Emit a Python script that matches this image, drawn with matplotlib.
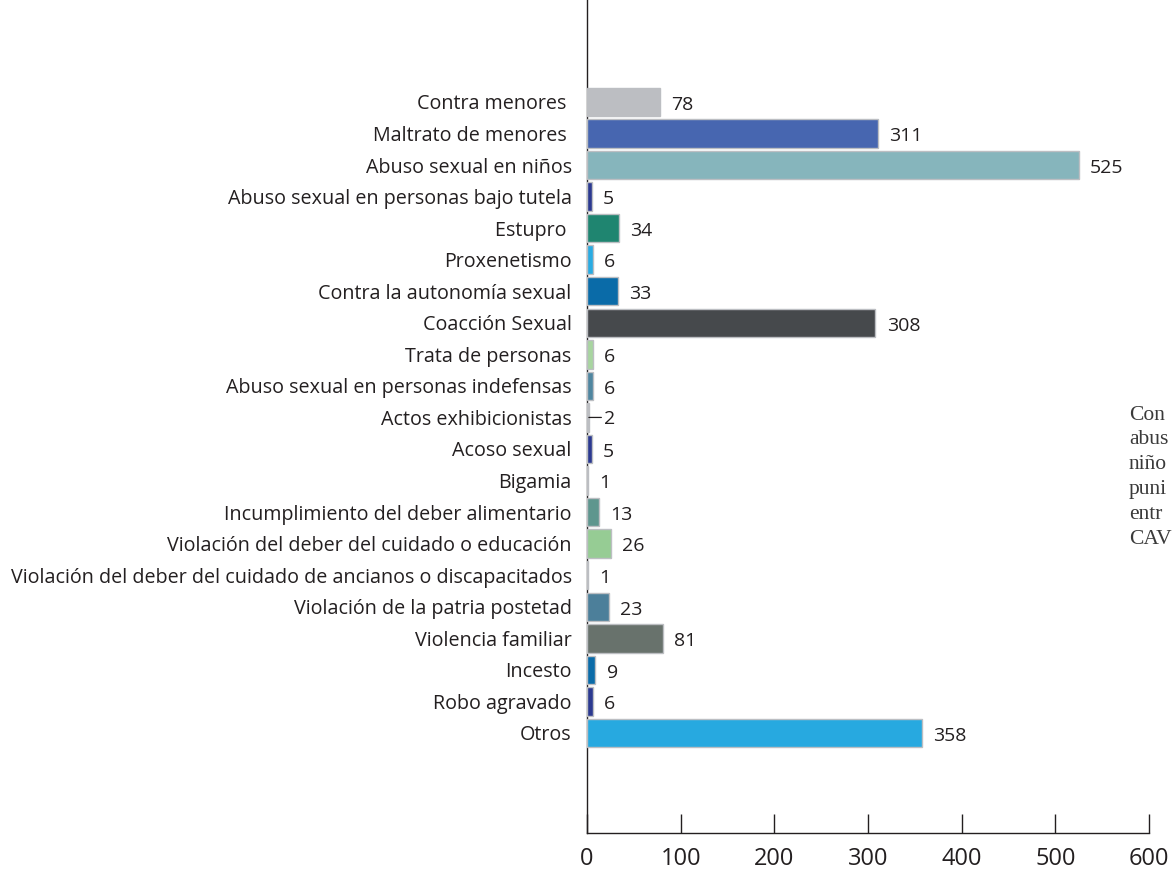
import matplotlib
matplotlib.use("Agg")
import matplotlib.pyplot as plt

categories = [
    "Contra menores ",
    "Maltrato de menores ",
    "Abuso sexual en niños",
    "Abuso sexual en personas bajo tutela",
    "Estupro ",
    "Proxenetismo",
    "Contra la autonomía sexual",
    "Coacción Sexual",
    "Trata de personas",
    "Abuso sexual en personas indefensas",
    "Actos exhibicionistas",
    "Acoso sexual",
    "Bigamia",
    "Incumplimiento del deber alimentario",
    "Violación del deber del cuidado o educación",
    "Violación del deber del cuidado de ancianos o discapacitados",
    "Violación de la patria postetad",
    "Violencia familiar",
    "Incesto",
    "Robo agravado",
    "Otros",
]
values = [78, 311, 525, 5, 34, 6, 33, 308, 6, 6, 2, 5, 1, 13, 26, 1, 23, 81, 9, 6, 358]
colors = [
    "#BCBEC2", "#4766B0", "#86B5BC", "#2B3990", "#1F8570", "#29ABE2",
    "#0A6BA8", "#46494C", "#A8D5A0", "#4F86A0", "#BCBEC2", "#2B3990",
    "#D8D8D8", "#5E968E", "#96CC94", "#231F20", "#4C7F9A", "#68726C",
    "#0A6BA8", "#2B3990", "#27A9E0",
]
xticks = [0, 100, 200, 300, 400, 500, 600]
side_text = ["Con", "abus", "niño", "puni", "entr", "CAV"]

plt.rcParams['font.family'] = ['Open Sans', 'DejaVu Sans']
fig = plt.figure(figsize=(11.74, 8.73), dpi=100)
ax = fig.add_axes([587/1174, 40/873, (1149-587)/1174, 833/873])

ypos = list(range(len(categories)))
ax.barh(ypos, values, height=0.9, color=colors, edgecolor="#BCBEC2", linewidth=1.0, zorder=2)

for y, v in zip(ypos, values):
    if v == 2:
        ax.annotate("", xy=(v, y), xytext=(9, 0), textcoords="offset points",
                    arrowprops=dict(arrowstyle="-", color="#231F20", lw=0.9,
                                    shrinkA=0, shrinkB=0))
        ax.annotate(str(v), xy=(v, y), xytext=(11, -1), textcoords="offset points",
                    ha="left", va="center", fontsize=14, color="#231F20")
    else:
        ax.annotate(str(v), xy=(v, y), xytext=(8, -2), textcoords="offset points",
                    ha="left", va="center", fontsize=14, color="#231F20")

ax.set_ylim(23.17, -3.23)
ax.set_xlim(0, 600)
ax.set_yticks(ypos)
ax.set_yticklabels(categories, fontsize=14.2, color="#231F20")
ax.tick_params(axis="y", length=0, pad=11)
ax.set_xticks(xticks)
ax.set_xticklabels([str(t) for t in xticks], fontsize=17, color="#231F20")
ax.tick_params(axis="x", direction="in", length=14, width=1.0, color="#231F20", pad=10)

for s in ["top", "right"]:
    ax.spines[s].set_visible(False)
for s in ["left", "bottom"]:
    ax.spines[s].set_color("#231F20")
    ax.spines[s].set_linewidth(1.0)
    ax.spines[s].set_zorder(1)

for i, t in enumerate(side_text):
    fig.text(1129/1174, 1 - (415 + 24.8*i)/873, t, fontsize=15.5, color="#3a3a3a",
             family="Liberation Serif", ha="left", va="center")

fig.savefig("out.png", dpi=100)
